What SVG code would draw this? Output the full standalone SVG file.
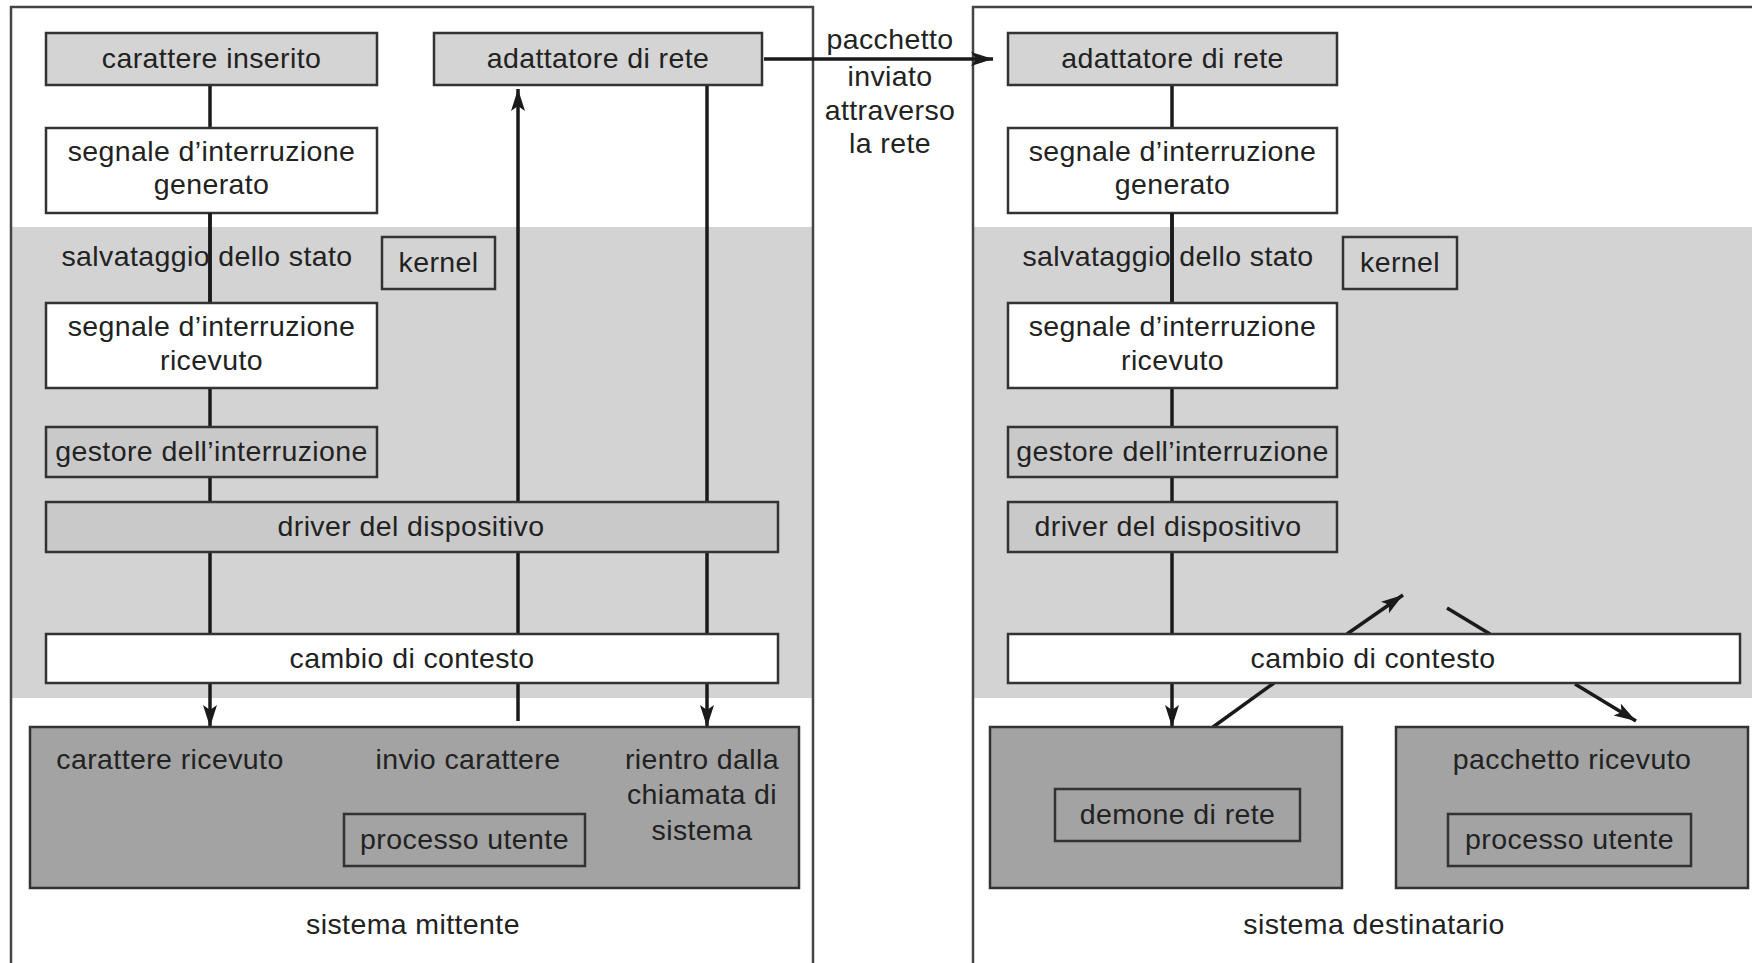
<svg xmlns="http://www.w3.org/2000/svg" width="1752" height="963" viewBox="0 0 1752 963">
<style>
text{font-family:"Liberation Sans",Arial,sans-serif;font-size:28.5px;letter-spacing:0.4px;fill:#222;text-anchor:middle}
.box{stroke:#333;stroke-width:2.5}
.lt{fill:#d4d4d4}
.md{fill:#c9c9c9}
.wh{fill:#fff}
.dk{fill:#a3a3a3}
.no{fill:none}
.c{stroke:#1a1a1a;stroke-width:3.5;fill:none}
.panel{fill:none;stroke:#444;stroke-width:2.5}
</style>
<defs>
<marker id="ah" markerUnits="userSpaceOnUse" markerWidth="24" markerHeight="16" refX="22" refY="7" orient="auto">
<path d="M0,0 L22,7 L0,14 L5,7 Z" fill="#1a1a1a"/>
</marker>
</defs>
<rect width="1752" height="963" fill="#fff"/>
<g id="bands">
<rect x="12" y="227" width="800" height="471" fill="#d3d3d3"/>
<rect x="974" y="227" width="780" height="471" fill="#d3d3d3"/>
</g>
<g id="panels">
<rect class="panel" x="11" y="7" width="802" height="990"/>
<rect class="panel" x="973" y="7" width="800" height="990"/>
</g>
<g id="connectors">
<line class="c" x1="210" y1="85" x2="210" y2="128"/>
<line class="c" x1="210" y1="213" x2="210" y2="303"/>
<line class="c" x1="210" y1="388" x2="210" y2="427"/>
<line class="c" x1="210" y1="477" x2="210" y2="502"/>
<line class="c" x1="210" y1="552" x2="210" y2="634"/>
<line class="c" x1="210" y1="683" x2="210" y2="727" marker-end="url(#ah)"/>
<line class="c" x1="518" y1="721" x2="518" y2="683"/>
<line class="c" x1="518" y1="634" x2="518" y2="552"/>
<line class="c" x1="518" y1="502" x2="518" y2="89" marker-end="url(#ah)"/>
<line class="c" x1="707" y1="85" x2="707" y2="502"/>
<line class="c" x1="707" y1="552" x2="707" y2="634"/>
<line class="c" x1="707" y1="683" x2="707" y2="727" marker-end="url(#ah)"/>
<line class="c" x1="764" y1="59" x2="993" y2="59" marker-end="url(#ah)"/>
<line class="c" x1="1172" y1="85" x2="1172" y2="128"/>
<line class="c" x1="1172" y1="213" x2="1172" y2="303"/>
<line class="c" x1="1172" y1="388" x2="1172" y2="427"/>
<line class="c" x1="1172" y1="477" x2="1172" y2="502"/>
<line class="c" x1="1172" y1="552" x2="1172" y2="634"/>
<line class="c" x1="1172" y1="683" x2="1172" y2="727" marker-end="url(#ah)"/>
<line class="c" x1="1213" y1="727" x2="1274" y2="683"/>
<line class="c" x1="1347" y1="634" x2="1403" y2="595" marker-end="url(#ah)"/>
<line class="c" x1="1447" y1="608" x2="1490" y2="634"/>
<line class="c" x1="1575" y1="684" x2="1636" y2="721" marker-end="url(#ah)"/>
</g>
<g id="net-label">
<text x="890" y="49">pacchetto</text>
<text x="890" y="86">inviato</text>
<text x="890" y="120">attraverso</text>
<text x="890" y="153">la rete</text>
</g>
<g id="L-carattere-inserito"><rect class="box lt" x="46" y="33" width="331" height="52"/><text x="211.5" y="68">carattere inserito</text></g>
<g id="L-adattatore"><rect class="box lt" x="434" y="33" width="328" height="52"/><text x="598" y="68">adattatore di rete</text></g>
<g id="L-segnale-generato"><rect class="box wh" x="46" y="128" width="331" height="85"/><text x="211.5" y="161">segnale d’interruzione</text><text x="211.5" y="194">generato</text></g>
<g id="L-salvataggio"><text x="207" y="266">salvataggio dello stato</text></g>
<line class="c" x1="210" y1="213" x2="210" y2="303"/>
<g id="L-kernel"><rect class="box no" x="382" y="237" width="113" height="52"/><text x="438.5" y="272">kernel</text></g>
<g id="L-segnale-ricevuto"><rect class="box wh" x="46" y="303" width="331" height="85"/><text x="211.5" y="336">segnale d’interruzione</text><text x="211.5" y="370">ricevuto</text></g>
<g id="L-gestore"><rect class="box md" x="46" y="427" width="331" height="50"/><text x="211.5" y="461">gestore dell’interruzione</text></g>
<g id="L-driver"><rect class="box md" x="46" y="502" width="732" height="50"/><text x="411" y="536">driver del dispositivo</text></g>
<g id="L-cambio"><rect class="box wh" x="46" y="634" width="732" height="49"/><text x="412" y="668">cambio di contesto</text></g>
<g id="L-processo-mittente">
<rect class="box dk" x="30" y="727" width="769" height="161"/>
<text x="170" y="769">carattere ricevuto</text>
<text x="468" y="769">invio carattere</text>
<text x="702" y="769">rientro dalla</text>
<text x="702" y="804">chiamata di</text>
<text x="702" y="840">sistema</text>
<rect class="box no" x="344" y="814" width="241" height="52"/><text x="464.5" y="849">processo utente</text>
</g>
<g id="L-title"><text x="413" y="934">sistema mittente</text></g>

<g id="R-adattatore"><rect class="box lt" x="1008" y="33" width="329" height="52"/><text x="1172.5" y="68">adattatore di rete</text></g>
<g id="R-segnale-generato"><rect class="box wh" x="1008" y="128" width="329" height="85"/><text x="1172.5" y="161">segnale d’interruzione</text><text x="1172.5" y="194">generato</text></g>
<g id="R-salvataggio"><text x="1168" y="266">salvataggio dello stato</text></g>
<line class="c" x1="1172" y1="213" x2="1172" y2="303"/>
<g id="R-kernel"><rect class="box no" x="1343" y="237" width="114" height="52"/><text x="1400" y="272">kernel</text></g>
<g id="R-segnale-ricevuto"><rect class="box wh" x="1008" y="303" width="329" height="85"/><text x="1172.5" y="336">segnale d’interruzione</text><text x="1172.5" y="370">ricevuto</text></g>
<g id="R-gestore"><rect class="box md" x="1008" y="427" width="329" height="50"/><text x="1172.5" y="461">gestore dell’interruzione</text></g>
<g id="R-driver"><rect class="box md" x="1008" y="502" width="329" height="50"/><text x="1168" y="536">driver del dispositivo</text></g>
<g id="R-cambio"><rect class="box wh" x="1008" y="634" width="732" height="49"/><text x="1373" y="668">cambio di contesto</text></g>
<g id="R-demone"><rect class="box dk" x="990" y="727" width="352" height="161"/><rect class="box no" x="1055" y="789" width="245" height="52"/><text x="1177.5" y="824">demone di rete</text></g>
<g id="R-pacchetto-ricevuto"><rect class="box dk" x="1396" y="727" width="352" height="161"/><text x="1572" y="769">pacchetto ricevuto</text><rect class="box no" x="1448" y="814" width="243" height="52"/><text x="1569.5" y="849">processo utente</text></g>
<g id="R-title"><text x="1374" y="934">sistema destinatario</text></g>
</svg>
